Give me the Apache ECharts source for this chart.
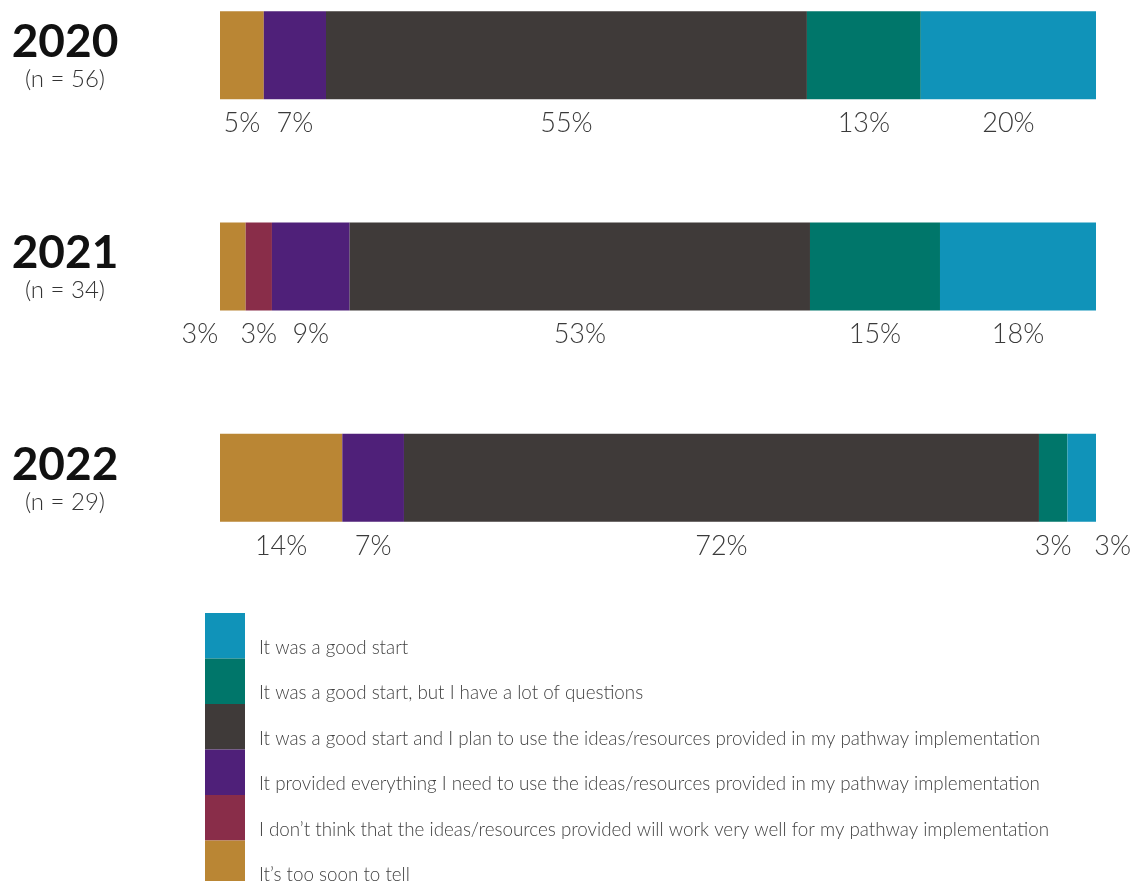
<!DOCTYPE html>
<html>
<head>
<meta charset="utf-8">
<script src="https://cdn.jsdelivr.net/npm/echarts@6/dist/echarts.min.js"></script>
<style>html,body{margin:0;padding:0;background:#fff;}#c{width:1135px;height:881px;}</style>
</head>
<body>
<div id="c"></div>
<script>
const years = ['2020', '2021', '2022'];
const sampleSizes = ['n = 56', 'n = 34', 'n = 29'];
const seriesNames = [
  'It’s too soon to tell',
  'I don’t think that the ideas/resources provided will work very well for my pathway implementation',
  'It provided everything I need to use the ideas/resources provided in my pathway implementation',
  'It was a good start and I plan to use the ideas/resources provided in my pathway implementation',
  'It was a good start, but I have a lot of questions',
  'It was a good start'
];
const tooSoon       = [5.0, 2.93, 13.96];
const wontWork      = [0, 3.0, 0];
const providedAll   = [7.1, 8.87, 7.04];
const planToUse     = [54.9, 52.55, 72.49];
const lotQuestions  = [13.0, 14.84, 3.25];
const goodStart     = [20.0, 17.81, 3.26];

const seriesValues = [tooSoon, wontWork, providedAll, planToUse, lotQuestions, goodStart];
const colors = ['#BA8634', '#892D49', '#4F2079', '#3F3A39', '#00766A', '#1093B9'];
// label nudges to avoid overlap: [seriesIndex, categoryIndex, dx]
const nudges = [[0, 1, -33], [5, 2, 31]];

const chart = echarts.init(document.getElementById('c'), null, {renderer: 'canvas'});

const series = seriesValues.map((vals, si) => ({
  name: seriesNames[si],
  type: 'bar',
  stack: 'total',
  barWidth: 88,
  itemStyle: {color: colors[si]},
  emphasis: {disabled: true},
  data: vals.map((v, ci) => {
    const n = nudges.find(d => d[0] === si && d[1] === ci);
    const item = {value: v};
    if (n) item.label = {offset: [n[2], 0]};
    return item;
  }),
  label: {
    show: true,
    position: 'bottom',
    distance: 9,
    formatter: p => p.value > 0 ? Math.round(p.value) + '%' : '',
    fontFamily: 'Lato',
    fontWeight: 300,
    fontSize: 27,
    lineHeight: 30,
    color: '#3a3a3a'
  }
}));

chart.setOption({
  animation: false,
  backgroundColor: '#fff',
  grid: {left: 220, right: 39, top: -50.5, height: 634, outerBoundsMode: 'none', containLabel: false},
  xAxis: {type: 'value', min: 0, max: 100, show: false},
  yAxis: {
    type: 'category',
    inverse: true,
    data: years,
    axisLine: {show: false},
    axisTick: {show: false},
    splitLine: {show: false},
    axisLabel: {
      align: 'center',
      margin: 155,
      padding: [4, 0, 0, 0],
      formatter: (v, i) => '{y|' + v + '}\n{n|(' + sampleSizes[i] + ')}',
      rich: {
        y: {fontFamily: 'Lato', fontWeight: 'bold', fontSize: 46, lineHeight: 44, color: '#111', align: 'center'},
        n: {fontFamily: 'Lato', fontWeight: 300, fontSize: 24, lineHeight: 30, color: '#333', align: 'center'}
      }
    }
  },
  legend: {
    orient: 'vertical',
    left: 205,
    top: 613,
    height: 320,
    padding: 0,
    itemWidth: 40,
    itemHeight: 45.5,
    itemGap: 0,
    icon: 'rect',
    selectedMode: false,
    data: seriesNames.slice().reverse(),
    formatter: name => '{t|' + name + '}',
    textStyle: {
      width: 797,
      overflow: 'truncate',
      ellipsis: '',
      rich: {
        t: {
          fontFamily: 'Lato',
          fontWeight: 300,
          fontSize: 18.8,
          lineHeight: 20,
          color: '#3f3f3f',
          padding: [24, 0, 0, 9]
        }
      }
    }
  },
  series: series
});
</script>
</body>
</html>
